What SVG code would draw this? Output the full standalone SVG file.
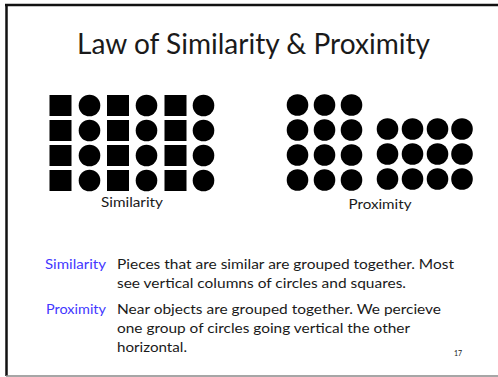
<svg xmlns="http://www.w3.org/2000/svg" width="498" height="377" viewBox="0 0 498 377">
<style>
.t{font-family:Lato,"Open Sans","Liberation Sans",sans-serif;fill:#1a1a1a}
.b{font-family:Lato,"Open Sans","Liberation Sans",sans-serif;fill:#4338ff;font-size:14px}
.body{font-size:14px}
.sq{fill:#000}
.c{fill:#000}
</style>
<defs>
<rect id="s" width="22" height="21" class="sq"/>
<circle id="d" r="10.8" class="c"/>
</defs>
<rect x="0" y="0" width="498" height="377" fill="#fff"/>
<g id="frame">
<line x1="5" y1="5" x2="498" y2="5" stroke="#111" stroke-width="2.5"/>
<line x1="6.5" y1="4" x2="6.5" y2="376" stroke="#111" stroke-width="2.5"/>
<line x1="6" y1="376" x2="498" y2="376" stroke="#888" stroke-width="1.5"/>
</g>
<g id="title"><text class="t" x="253.5" y="54" font-size="28" text-anchor="middle" textLength="353" lengthAdjust="spacingAndGlyphs">Law of Similarity &amp; Proximity</text></g>
<g id="similarity-grid">
<use href="#s" x="49.5" y="95"/><use href="#s" x="107" y="95"/><use href="#s" x="164.5" y="95"/>
<use href="#s" x="49.5" y="120"/><use href="#s" x="107" y="120"/><use href="#s" x="164.5" y="120"/>
<use href="#s" x="49.5" y="145"/><use href="#s" x="107" y="145"/><use href="#s" x="164.5" y="145"/>
<use href="#s" x="49.5" y="170"/><use href="#s" x="107" y="170"/><use href="#s" x="164.5" y="170"/>
<use href="#d" x="89.5" y="105.5"/><use href="#d" x="146.5" y="105.5"/><use href="#d" x="203.5" y="105.5"/>
<use href="#d" x="89.5" y="130.5"/><use href="#d" x="146.5" y="130.5"/><use href="#d" x="203.5" y="130.5"/>
<use href="#d" x="89.5" y="155.5"/><use href="#d" x="146.5" y="155.5"/><use href="#d" x="203.5" y="155.5"/>
<use href="#d" x="89.5" y="180.5"/><use href="#d" x="146.5" y="180.5"/><use href="#d" x="203.5" y="180.5"/>
<text class="t" x="132" y="207" font-size="12.5" text-anchor="middle" textLength="62" lengthAdjust="spacingAndGlyphs">Similarity</text>
</g>
<g id="proximity-grid">
<use href="#d" x="297.5" y="105"/><use href="#d" x="324.5" y="105"/><use href="#d" x="351.5" y="105"/>
<use href="#d" x="297.5" y="130"/><use href="#d" x="324.5" y="130"/><use href="#d" x="351.5" y="130"/>
<use href="#d" x="297.5" y="155"/><use href="#d" x="324.5" y="155"/><use href="#d" x="351.5" y="155"/>
<use href="#d" x="297.5" y="180"/><use href="#d" x="324.5" y="180"/><use href="#d" x="351.5" y="180"/>
<use href="#d" x="387.5" y="129"/><use href="#d" x="412.5" y="129"/><use href="#d" x="437.5" y="129"/><use href="#d" x="462" y="129"/>
<use href="#d" x="387.5" y="154"/><use href="#d" x="412.5" y="154"/><use href="#d" x="437.5" y="154"/><use href="#d" x="462" y="154"/>
<use href="#d" x="387.5" y="179"/><use href="#d" x="412.5" y="179"/><use href="#d" x="437.5" y="179"/><use href="#d" x="462" y="179"/>
<text class="t" x="380" y="209" font-size="12.5" text-anchor="middle" textLength="63" lengthAdjust="spacingAndGlyphs">Proximity</text>
</g>
<g id="similarity-text">
<text class="b" x="45" y="269" textLength="61" lengthAdjust="spacingAndGlyphs">Similarity</text>
<text class="t body" x="117" y="269" textLength="337" lengthAdjust="spacingAndGlyphs">Pieces that are similar are grouped together. Most</text>
<text class="t body" x="117" y="288" textLength="289" lengthAdjust="spacingAndGlyphs">see vertical columns of circles and squares.</text>
</g>
<g id="proximity-text">
<text class="b" x="46" y="314" textLength="60" lengthAdjust="spacingAndGlyphs">Proximity</text>
<text class="t body" x="117" y="314" textLength="324" lengthAdjust="spacingAndGlyphs">Near objects are grouped together. We percieve</text>
<text class="t body" x="117" y="333" textLength="293" lengthAdjust="spacingAndGlyphs">one group of circles going vertical the other</text>
<text class="t body" x="117" y="352" textLength="70" lengthAdjust="spacingAndGlyphs">horizontal.</text>
</g>
<text class="t" x="458" y="356" font-size="7" text-anchor="middle" fill="#444">17</text>
</svg>
